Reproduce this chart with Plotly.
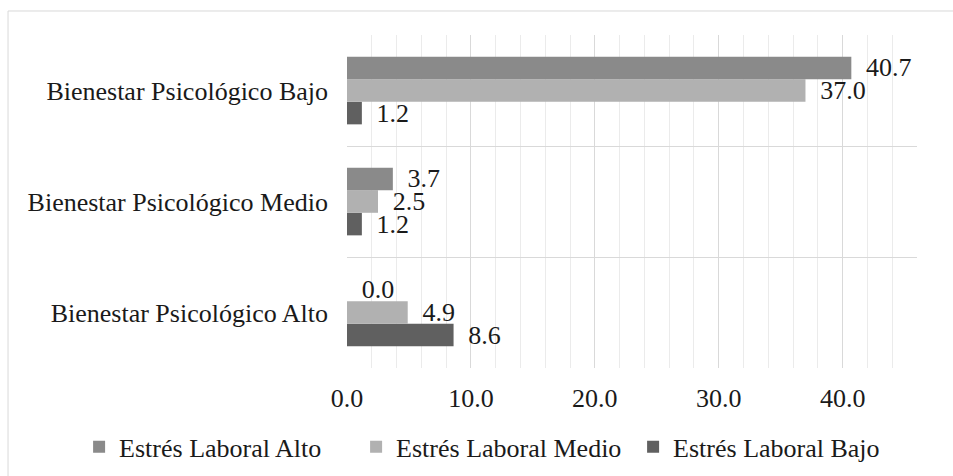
import plotly.graph_objects as go

categories = ["Bienestar Psicológico Alto", "Bienestar Psicológico Medio", "Bienestar Psicológico Bajo"]
series_names = ["Estrés Laboral Alto", "Estrés Laboral Medio", "Estrés Laboral Bajo"]
estres_alto = [0.0, 3.7, 40.7]
estres_medio = [4.9, 2.5, 37.0]
estres_bajo = [8.6, 1.2, 1.2]
x_ticks = [0, 10, 20, 30, 40]
x_tick_labels = ["0.0", "10.0", "20.0", "30.0", "40.0"]

colors = {"Estrés Laboral Alto": "#8a8a8a", "Estrés Laboral Medio": "#b1b1b1", "Estrés Laboral Bajo": "#606060"}
values = {"Estrés Laboral Alto": estres_alto, "Estrés Laboral Medio": estres_medio, "Estrés Laboral Bajo": estres_bajo}

FONT = "Liberation Serif"
FS = 26
TXT = "#1a1a1a"

fig = go.Figure()
# add in reverse so "Alto" is on top within each group
for name in reversed(series_names):
    vals = values[name]
    fig.add_trace(go.Bar(
        y=categories, x=vals, name=name, orientation="h",
        marker=dict(color=colors[name], line=dict(width=0)),
        text=["\u00a0\u2009" + f"{v:.1f}" for v in vals],
        textposition="outside", constraintext="none", cliponaxis=False,
        textfont=dict(family=FONT, size=FS, color=TXT),
    ))

fig.update_layout(
    width=953, height=476,
    margin=dict(l=347, r=36, t=35, b=108, autoexpand=False),
    barmode="group", bargap=0.39, bargroupgap=0,
    paper_bgcolor="white", plot_bgcolor="white",
    font=dict(family=FONT, size=FS, color=TXT),
    legend=dict(orientation="h", x=-0.47, xanchor="left", y=-0.237, yanchor="middle",
                traceorder="reversed", font=dict(family=FONT, size=FS, color=TXT),
                itemwidth=30, entrywidth=232, entrywidthmode="pixels",
                bgcolor="rgba(0,0,0,0)"),
    xaxis=dict(range=[0, 46], tickvals=x_ticks, ticktext=x_tick_labels,
               showgrid=True, gridcolor="#d9d9d9", gridwidth=1,
               minor=dict(dtick=2, tick0=0, showgrid=True, gridcolor="#ebebeb", gridwidth=1),
               zeroline=False, showline=False, ticks="", ticklabelstandoff=12,
               tickfont=dict(family=FONT, size=FS, color=TXT)),
    yaxis=dict(type="category", categoryorder="array", categoryarray=categories,
               tickson="boundaries", showgrid=True, gridcolor="#d9d9d9", gridwidth=1,
               zeroline=False, showline=False, ticks="", ticklabelstandoff=18,
               tickfont=dict(family=FONT, size=FS, color=TXT)),
    shapes=[dict(type="rect", xref="paper", yref="paper",
                 x0=-0.5947, x1=1.2, y0=-0.45, y1=1.0721,
                 line=dict(color="#d9d9d9", width=1), fillcolor="rgba(0,0,0,0)", layer="below")],
)

fig.write_html("out.html", config={"displayModeBar": False},
               post_script="document.body.style.margin='0';document.body.style.overflow='hidden';")
